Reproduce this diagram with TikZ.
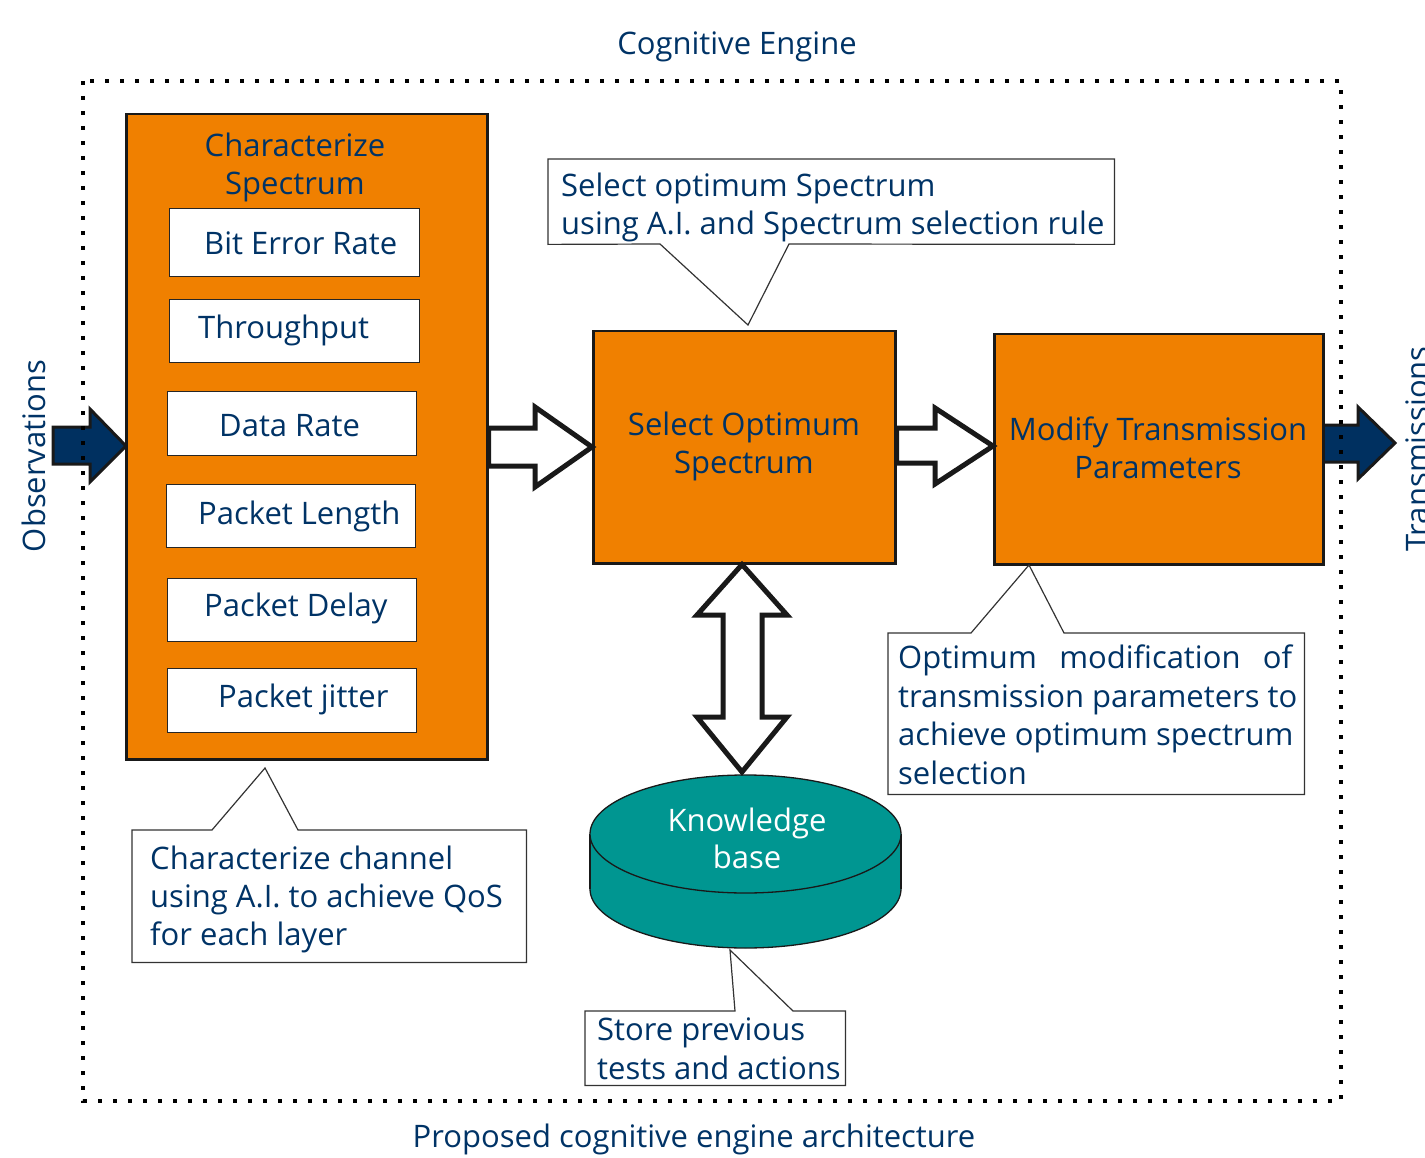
\documentclass[tikz,border=0pt]{standalone}
\usepackage{fontspec}
\setmainfont{Open Sans}
\definecolor{navy}{RGB}{0,51,102}
\definecolor{orng}{RGB}{240,128,0}
\definecolor{tealkb}{RGB}{0,150,145}
\definecolor{arrblue}{RGB}{0,48,96}
\begin{document}
\begin{tikzpicture}[x=1pt,y=-1pt,
  lbl/.style={text=navy, font=\fontsize{31}{38}\selectfont, inner sep=0pt},
  obox/.style={draw=black!90, line width=2.5pt, fill=orng, inner sep=0pt, anchor=north west},
  wbox/.style={draw=black!85, line width=1.3pt, fill=white, inner sep=0pt, anchor=north west},
  cbox/.style={fill=white, inner sep=0pt, anchor=north west},
  cline/.style={draw=black!80, line width=1.2pt, line join=miter},
  hollow/.style={draw=black!90, fill=white, line width=5pt, line join=miter},
  bluearrow/.style={draw=black!90, fill=arrblue, line width=3pt, line join=miter},
  frame/.style={draw=black, line width=4pt, dash pattern=on 4pt off 11pt}
]
\useasboundingbox (0,0) rectangle (1425,1158);

% titles
\node[lbl, anchor=base] (title) at (737,55) {Cognitive Engine};
\node[lbl, anchor=base] (caption) at (694,1147) {Proposed cognitive engine architecture};

% input / output arrows
\draw[bluearrow] (53,427) -- (90,427) -- (90,409) -- (126,446) -- (90,482) -- (90,464) -- (53,464) -- cycle;
\draw[bluearrow] (1322,425) -- (1358,425) -- (1358,407) -- (1395,443) -- (1358,479) -- (1358,462) -- (1322,462) -- cycle;
\node[lbl, rotate=90] (obs) at (33.5,456) {Observations};
\node[lbl, rotate=90] (trans) at (1417.5,449) {Transmissions};

% dotted frame
\draw[frame] (83,81) rectangle (1341,1101);

% characterize spectrum block
\node[obox, minimum width=361pt, minimum height=645pt] (char) at (125,113) {};
\node[lbl, anchor=base] (charA) at (295,157) {Characterize};
\node[lbl, anchor=base] (charB) at (295,195) {Spectrum};

\node[wbox, minimum width=250pt, minimum height=68pt] (ber) at (169,208) {};
\node[lbl, anchor=base west] (berT) at (204,255) {Bit Error Rate};
\node[wbox, minimum width=250pt, minimum height=63pt] (thr) at (169,299) {};
\node[lbl, anchor=base west] (thrT) at (198,339) {Throughput};
\node[wbox, minimum width=249pt, minimum height=64pt] (dr) at (167,391) {};
\node[lbl, anchor=base west] (drT) at (219,436) {Data Rate};
\node[wbox, minimum width=249pt, minimum height=63pt] (pl) at (166,484) {};
\node[lbl, anchor=base west] (plT) at (198,524) {Packet Length};
\node[wbox, minimum width=249pt, minimum height=63pt] (pd) at (167,578) {};
\node[lbl, anchor=base west] (pdT) at (204,616) {Packet Delay};
\node[wbox, minimum width=249pt, minimum height=64pt] (pj) at (167,668) {};
\node[lbl, anchor=base west] (pjT) at (218,707) {Packet jitter};

% select optimum spectrum
\node[obox, minimum width=302pt, minimum height=232pt] (sel) at (592,330) {};
\node[lbl, anchor=base] (selA) at (744,435) {Select Optimum};
\node[lbl, anchor=base] (selB) at (744,473) {Spectrum};

% modify transmission parameters
\node[obox, minimum width=329pt, minimum height=230pt] (mod) at (993,333) {};
\node[lbl, anchor=base] (modA) at (1158,440) {Modify Transmission};
\node[lbl, anchor=base] (modB) at (1158,478) {Parameters};

% hollow arrows
\draw[hollow] (char.east |- 0,428) -- (535,428) -- (535,407) -- (sel.west |- 0,447) -- (535,487) -- (535,466) -- (char.east |- 0,466) -- cycle;
\draw[hollow] (sel.east |- 0,428) -- (935,428) -- (935,408) -- (mod.west |- 0,446) -- (935,484) -- (935,463) -- (sel.east |- 0,463) -- cycle;

% knowledge base cylinder
\fill[tealkb, draw=black!90, line width=1.3pt] (745.5,889) ellipse [x radius=155.5pt, y radius=59pt];
\fill[tealkb] (590,834) rectangle (901,889);
\draw[black!90, line width=1.3pt] (590,834) -- (590,889) (901,834) -- (901,889);
\fill[tealkb, draw=black!90, line width=1.3pt] (745.5,834) ellipse [x radius=155.5pt, y radius=59pt];
\coordinate (kbtop) at (745.5,775);
\coordinate (kbbot) at (745.5,948);
\node[lbl, text=white, anchor=base] (kbA) at (747,831) {Knowledge};
\node[lbl, text=white, anchor=base] (kbB) at (747,868) {base};

% double arrow
\draw[hollow] (sel.south -| 742,0) -- (787,615) -- (762,615) -- (762,717) -- (787,717) -- (742,772) -- (697,717) -- (723,717) -- (723,615) -- (697,615) -- cycle;

% callout: select optimum spectrum
\node[cbox, minimum width=566pt, minimum height=85pt] (c1) at (548,159) {};
\coordinate (c1a) at (660,244);
\coordinate (c1t) at (748,325);
\coordinate (c1b) at (789,244);
\draw[cline] (c1.south west) -- (c1a) -- (c1t) -- (c1b) -- (c1.south east) -- (c1.north east) -- (c1.north west) -- cycle;
\node[lbl, anchor=base west] (c1A) at (561,197) {Select optimum Spectrum};
\node[lbl, anchor=base west] (c1B) at (561,235) {using A.I. and Spectrum selection rule};

% callout: characterize channel
\node[cbox, minimum width=394pt, minimum height=132pt] (c2) at (132,830) {};
\coordinate (c2a) at (212,830);
\coordinate (c2t) at (265,768);
\coordinate (c2b) at (298,830);
\draw[cline] (c2.north west) -- (c2a) -- (c2t) -- (c2b) -- (c2.north east) -- (c2.south east) -- (c2.south west) -- cycle;
\node[lbl, anchor=base west] (c2A) at (150,869) {Characterize channel};
\node[lbl, anchor=base west] (c2B) at (150,907) {using A.I. to achieve QoS};
\node[lbl, anchor=base west] (c2C) at (150,945) {for each layer};

% callout: optimum modification
\node[cbox, minimum width=416pt, minimum height=161pt] (c3) at (888,633) {};
\coordinate (c3a) at (971,633);
\coordinate (c3t) at (1029,565);
\coordinate (c3b) at (1064,633);
\draw[cline] (c3.north west) -- (c3a) -- (c3t) -- (c3b) -- (c3.north east) -- (c3.south east) -- (c3.south west) -- cycle;
\node[lbl, anchor=base west] (c3A) at (898,668) {\makebox[394pt][s]{Optimum modification of}};
\node[lbl, anchor=base west] (c3B) at (898,707) {transmission parameters to};
\node[lbl, anchor=base west] (c3C) at (898,745) {achieve optimum spectrum};
\node[lbl, anchor=base west] (c3D) at (898,784) {selection};

% callout: store previous tests
\node[cbox, minimum width=260pt, minimum height=74pt] (c4) at (585,1011) {};
\coordinate (c4a) at (735,1011);
\coordinate (c4t) at (730,950);
\coordinate (c4b) at (793,1011);
\draw[cline] (c4.north west) -- (c4a) -- (c4t) -- (c4b) -- (c4.north east) -- (c4.south east) -- (c4.south west) -- cycle;
\node[lbl, anchor=base west] (c4A) at (597,1040) {Store previous};
\node[lbl, anchor=base west] (c4B) at (597,1079) {tests and actions};
\end{tikzpicture}
\end{document}
